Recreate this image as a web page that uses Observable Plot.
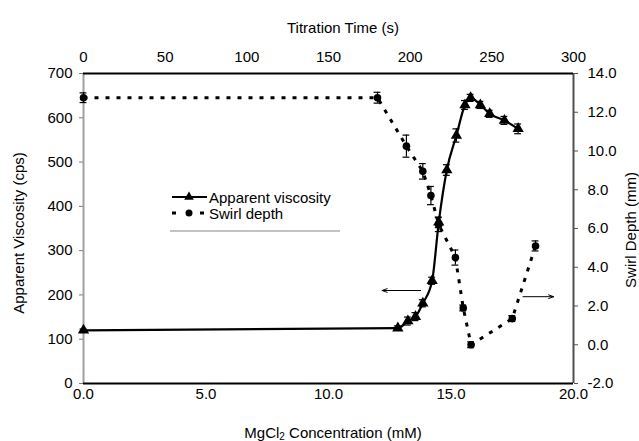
<!DOCTYPE html>
<html><head><meta charset="utf-8">
<script src="https://cdn.jsdelivr.net/npm/d3@7"></script>
<script src="https://cdn.jsdelivr.net/npm/@observablehq/plot@0.6"></script>
<style>
body{margin:0;background:#fff}
#chart{width:639px;height:441px;position:relative}
svg{display:block}
</style>
</head><body><div id="chart"></div>
<script>
// ---- data ----
const viscConc  = [0, 12.83, 13.24, 13.55, 13.85, 14.23, 14.5, 14.83, 15.22, 15.57, 15.8, 16.2, 16.58, 17.18, 17.74];
const viscValue = [120, 125, 141, 151, 181, 232, 364, 482, 560, 629, 645, 629, 609, 594, 575];
const viscError = [3, 5, 9, 9, 8, 8, 12, 12, 15, 10, 8, 8, 8, 9, 11];

const swirlConc  = [0, 12.0, 13.18, 13.85, 14.18, 14.5, 15.18, 15.5, 15.82, 17.5, 18.45];
const swirlDepth = [12.75, 12.75, 10.25, 8.95, 7.7, 6.2, 4.5, 1.9, 0.0, 1.35, 5.1];
const swirlError = [0.25, 0.28, 0.57, 0.4, 0.47, 0.36, 0.39, 0.15, 0.15, 0.15, 0.26];

const concDomain  = [0, 20];
const viscDomain  = [0, 700];
const depthDomain = [-2, 14];
const timeDomain  = [0, 300];

const concTicks  = [0, 5, 10, 15, 20];
const viscTicks  = [0, 100, 200, 300, 400, 500, 600, 700];
const depthTicks = [-2, 0, 2, 4, 6, 8, 10, 12, 14];
const timeTicks  = [0, 50, 100, 150, 200, 250, 300];

// annotation arrows (concentration, viscosity units)
const arrowFromConc = [13.76, 17.94];
const arrowToConc   = [12.19, 19.19];
const arrowVisc     = [210, 196];

const seriesNames = ["Apparent viscosity", "Swirl depth"];

// ---- secondary-axis mappings ----
const depthToV = d => (d - depthDomain[0]) / (depthDomain[1] - depthDomain[0]) * (viscDomain[1] - viscDomain[0]) + viscDomain[0];
const timeToC  = t => (t - timeDomain[0]) / (timeDomain[1] - timeDomain[0]) * (concDomain[1] - concDomain[0]) + concDomain[0];

const visc  = viscConc.map((c, i) => ({c, v: viscValue[i], e: viscError[i]}));
const swirl = swirlConc.map((c, i) => ({c, v: depthToV(swirlDepth[i]), lo: depthToV(swirlDepth[i] - swirlError[i]), hi: depthToV(swirlDepth[i] + swirlError[i])}));
const arrows = arrowFromConc.map((c, i) => ({x1: c, x2: arrowToConc[i], y: arrowVisc[i]}));
const depthLabel = new Map(depthTicks.map(d => [depthToV(d), d.toFixed(1)]));
const timeLabel = new Map(timeTicks.map(t => [timeToC(t), String(t)]));

const cap = 0.14;
const FONT = "'Liberation Sans', Arial, Helvetica, sans-serif";

const chart = Plot.plot({
  width: 639, height: 441,
  marginLeft: 83, marginRight: 66, marginTop: 73, marginBottom: 58,
  style: {fontFamily: FONT, fontSize: "15px", background: "#fff", color: "#000", overflow: "visible"},
  x: {domain: concDomain},
  y: {domain: viscDomain},
  marks: [
    Plot.axisY({ticks: viscTicks, tickFormat: d => String(d), tickSize: 4, tickPadding: 7, label: null, stroke: "#777"}),
    Plot.axisY({anchor: "right", ticks: depthTicks.map(depthToV), tickFormat: v => depthLabel.get(v), tickSize: 4, tickPadding: 10, label: null, stroke: "#555"}),
    Plot.axisX({ticks: concTicks, tickFormat: d => d.toFixed(1), tickSize: 0, tickPadding: 5, label: null}),
    Plot.axisX({anchor: "top", ticks: timeTicks.map(timeToC), tickFormat: c => timeLabel.get(c), tickSize: 0, tickPadding: 12, label: null}),
    // frame
    Plot.ruleX([concDomain[0]], {stroke: "#a0a0a0", strokeWidth: 2}),
    Plot.ruleX([concDomain[1]], {stroke: "#505050", strokeWidth: 2}),
    Plot.ruleY([viscDomain[0]], {stroke: "#000", strokeWidth: 2}),
    Plot.ruleY([viscDomain[1]], {stroke: "#000", strokeWidth: 2}),
    // swirl depth: error bars, dotted line, dots
    Plot.ruleX(swirl, {x: "c", y1: "lo", y2: "hi", stroke: "#000", strokeWidth: 1.2}),
    Plot.ruleY(swirl, {y: "lo", x1: d => d.c - cap, x2: d => d.c + cap, stroke: "#000", strokeWidth: 1.2}),
    Plot.ruleY(swirl, {y: "hi", x1: d => d.c - cap, x2: d => d.c + cap, stroke: "#000", strokeWidth: 1.2}),
    Plot.line(swirl, {x: "c", y: "v", stroke: "#000", strokeWidth: 3, strokeDasharray: "4,7", strokeLinecap: "butt"}),
    Plot.dot(swirl, {x: "c", y: "v", r: 3.8, fill: "#000", stroke: "none"}),
    // viscosity: error bars, smooth line, triangles
    Plot.ruleX(visc, {x: "c", y1: d => d.v - d.e, y2: d => d.v + d.e, stroke: "#000", strokeWidth: 1.2}),
    Plot.ruleY(visc, {y: d => d.v - d.e, x1: d => d.c - cap, x2: d => d.c + cap, stroke: "#000", strokeWidth: 1.2}),
    Plot.ruleY(visc, {y: d => d.v + d.e, x1: d => d.c - cap, x2: d => d.c + cap, stroke: "#000", strokeWidth: 1.2}),
    Plot.line(visc, {x: "c", y: "v", stroke: "#000", strokeWidth: 2.2, curve: "monotone-x"}),
    Plot.dot(visc, {x: "c", y: "v", symbol: "triangle", r: 4.2, fill: "#000", stroke: "none"}),
    // annotation arrows
    Plot.arrow(arrows, {x1: "x1", x2: "x2", y1: "y", y2: "y", stroke: "#000", strokeWidth: 1, headLength: 8, headAngle: 40})
  ]
});

const root = document.getElementById("chart");
root.appendChild(chart);
const svg = d3.select(chart);

function addText(x, y, opts = {}) {
  const t = svg.append("text")
    .attr("x", x).attr("y", y)
    .attr("font-family", FONT).attr("font-size", opts.size || 15)
    .attr("fill", "#000")
    .attr("text-anchor", opts.anchor || "middle")
    .attr("dominant-baseline", "central");
  if (opts.rotate) t.attr("transform", `rotate(${opts.rotate},${x},${y})`);
  return t;
}

// titles
addText(343, 27).text("Titration Time (s)");
addText(18, 233, {rotate: -90}).text("Apparent Viscosity (cps)");
addText(630, 230, {rotate: -90}).text("Swirl Depth (mm)");
const bt = addText(333, 432);
bt.append("tspan").text("MgCl");
bt.append("tspan").attr("font-size", 10).attr("dy", 4).text("2");
bt.append("tspan").attr("dy", -4).text(" Concentration (mM)");

// legend
const lg = svg.append("g");
lg.append("line").attr("x1", 170).attr("x2", 340).attr("y1", 231).attr("y2", 231).attr("stroke", "#888").attr("stroke-width", 1.2);
lg.append("line").attr("x1", 172).attr("x2", 207).attr("y1", 197).attr("y2", 197).attr("stroke", "#000").attr("stroke-width", 2.2);
lg.append("path").attr("d", d3.symbol(d3.symbolTriangle, 40)()).attr("transform", "translate(189,197)").attr("fill", "#000");
lg.append("line").attr("x1", 172).attr("x2", 176).attr("y1", 213).attr("y2", 213).attr("stroke", "#000").attr("stroke-width", 3);
lg.append("line").attr("x1", 200).attr("x2", 204).attr("y1", 213).attr("y2", 213).attr("stroke", "#000").attr("stroke-width", 3);
lg.append("circle").attr("cx", 189).attr("cy", 213).attr("r", 3.5).attr("fill", "#000");
lg.append("text").attr("x", 209).attr("y", 197).attr("font-family", FONT).attr("font-size", 15).attr("text-anchor", "start").attr("dominant-baseline", "central").text(seriesNames[0]);
lg.append("text").attr("x", 209).attr("y", 213).attr("font-family", FONT).attr("font-size", 15).attr("text-anchor", "start").attr("dominant-baseline", "central").text(seriesNames[1]);
</script>
</body></html>
